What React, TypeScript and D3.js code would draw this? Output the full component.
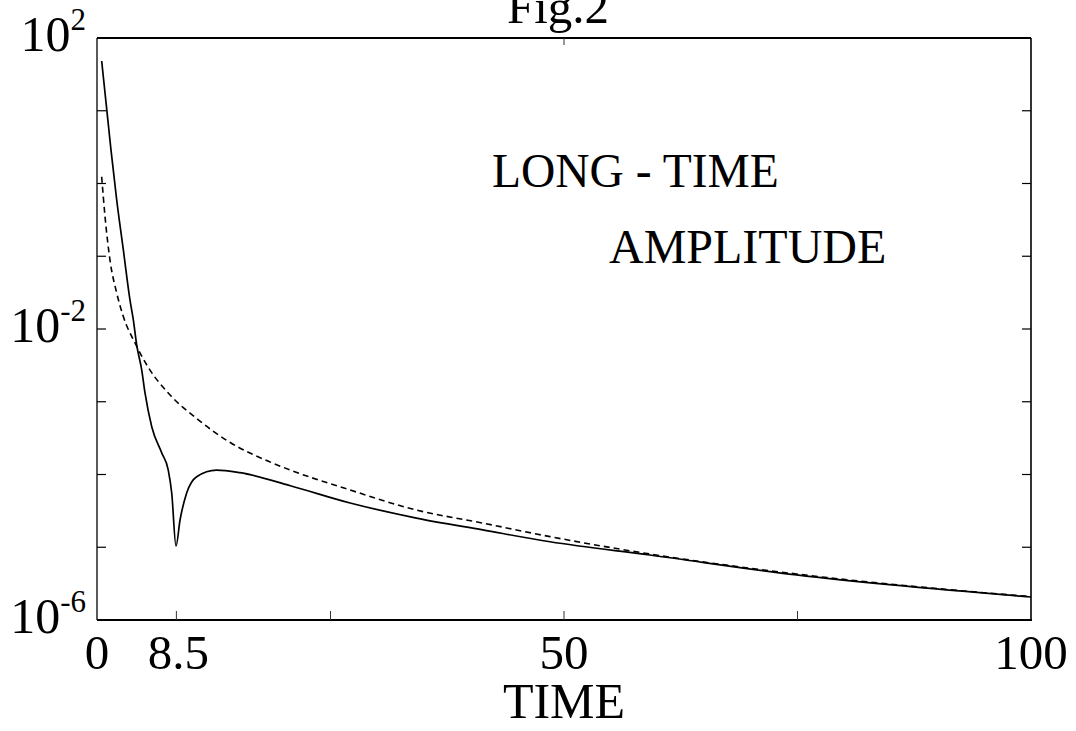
import React from "react";
import * as d3 from "d3";

const solidT = [0.5, 1.5, 2.11, 2.82, 3.53, 3.89, 4.25, 4.79, 5.14, 5.86, 6.93, 7.63, 8.0, 8.46, 8.89, 9.6, 10.67, 12.8, 15.3, 20.7, 27.1, 34.2, 41.3, 48.5, 59.2, 74.9, 100];
const solidV = [48.3, 2.88, 0.593, 0.122, 0.0251, 0.0133, 6.03e-3, 2.73e-3, 1.32e-3, 4.54e-4, 1.98e-4, 1.15e-4, 5.57e-5, 1.04e-5, 2.37e-5, 5.57e-5, 9.33e-5, 1.15e-4, 1.06e-4, 7.01e-5, 4.06e-5, 2.52e-5, 1.73e-5, 1.19e-5, 7.82e-6, 4.16e-6, 2.07e-6];

const dashT = [0.5, 0.86, 1.39, 2.11, 2.82, 4.07, 5.46, 7.82, 10.6, 14.35, 18.3, 20.7, 27.1, 34.2, 41.3, 48.5, 59.2, 74.9, 100];
const dashV = [1.24, 0.35, 0.0887, 0.0313, 0.0148, 6.43e-3, 3.01e-3, 1.24e-3, 5.98e-4, 2.71e-4, 1.53e-4, 1.15e-4, 6.12e-5, 3.25e-5, 2.15e-5, 1.40e-5, 8.07e-6, 4.29e-6, 2.09e-6];

const xTickLabels = [0, 8.5, 50, 100];
const xMinorTicks = [8.5, 25, 50, 75];
const xTopTicks = [50];
const yLabelExps = [2, -2, -6];
const yTickExps = [-5, -4, -3, -2, -1, 0, 1];

const FONT = "'Liberation Serif', 'Times New Roman', serif";

export default function App() {
  const L = 97, R = 1031, T = 38, B = 620;
  const x = d3.scaleLinear().domain([0, 100]).range([L, R]);
  const y = d3.scaleLog().domain([1e-6, 1e2]).range([B, T]);

  const solid = solidT.map((t, i) => [t, solidV[i]] as [number, number]);
  const dashed = dashT.map((t, i) => [t, dashV[i]] as [number, number]);
  const line = d3
    .line<[number, number]>()
    .x((d) => x(d[0]))
    .y((d) => y(d[1]))
    .curve(d3.curveMonotoneX);

  return (
    <svg width={1076} height={731} style={{ position: "absolute", left: 0, top: 0, background: "#fff" }}>
      <rect x={0} y={0} width={1076} height={731} fill="#fff" />
      {/* frame */}
      <line x1={L} x2={R} y1={T} y2={T} stroke="#000" strokeWidth={2.2} />
      <line x1={L} x2={R + 1} y1={B} y2={B} stroke="#000" strokeWidth={2.2} />
      <line x1={L} x2={L} y1={T} y2={B} stroke="#000" strokeWidth={1.3} />
      <line x1={R} x2={R} y1={T} y2={B} stroke="#000" strokeWidth={1.6} />
      {/* y ticks */}
      {yTickExps.map((e) => (
        <g key={e}>
          <line x1={L} x2={L + 9} y1={y(Math.pow(10, e))} y2={y(Math.pow(10, e))} stroke="#000" strokeWidth={1.2} />
          <line x1={R - 9} x2={R} y1={y(Math.pow(10, e))} y2={y(Math.pow(10, e))} stroke="#000" strokeWidth={1.2} />
        </g>
      ))}
      {/* x ticks */}
      {xMinorTicks.map((t) => (
        <line key={t} x1={x(t)} x2={x(t)} y1={B} y2={B - 9} stroke="#333" strokeWidth={1} />
      ))}
      {xTopTicks.map((t) => (
        <line key={t} x1={x(t)} x2={x(t)} y1={T} y2={T + 7} stroke="#333" strokeWidth={1} />
      ))}
      {/* curves */}
      <path d={line(dashed) || ""} fill="none" stroke="#000" strokeWidth={1.6} strokeDasharray="6,4" />
      <path d={line(solid) || ""} fill="none" stroke="#000" strokeWidth={1.7} />
      {/* y labels */}
      {yLabelExps.map((e) => (
        <text key={e} x={86} y={y(Math.pow(10, e)) + 13} textAnchor="end" fontFamily={FONT} fontSize={50} fill="#000">
          10
          <tspan fontSize={31} dy={-21}>{e}</tspan>
        </text>
      ))}
      {/* x labels */}
      {xTickLabels.map((t) => (
        <text key={t} x={x(t) + (t === 8.5 ? 2 : 0)} y={669} textAnchor="middle" fontFamily={FONT} fontSize={49} fill="#000">
          {t}
        </text>
      ))}
      <text x={564} y={718} textAnchor="middle" fontFamily={FONT} fontSize={50} fill="#000">TIME</text>
      <text x={558} y={23} textAnchor="middle" fontFamily={FONT} fontSize={49} fill="#000">Fig.2</text>
      <text x={492} y={187} fontFamily={FONT} fontSize={47.5} fill="#000">LONG - TIME</text>
      <text x={609} y={263} fontFamily={FONT} fontSize={48} fill="#000">AMPLITUDE</text>
    </svg>
  );
}
